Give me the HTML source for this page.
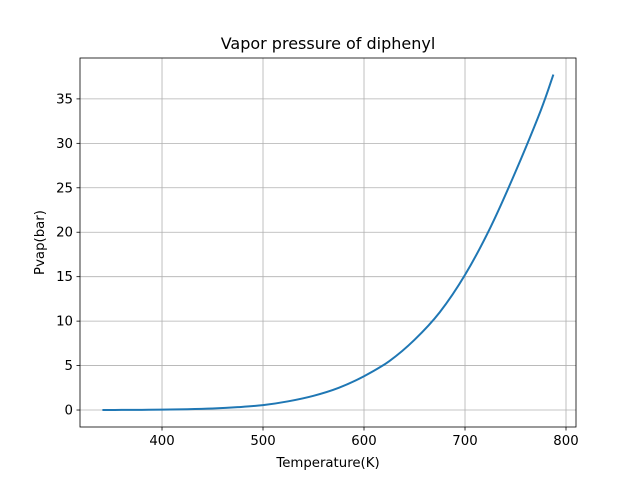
<!DOCTYPE html>
<html><head><meta charset="utf-8"><style>
body{margin:0;background:#fff;font-family:"Liberation Sans","DejaVu Sans",sans-serif}
svg text{font-family:"DejaVu Sans","Liberation Sans",sans-serif;font-size:13.3px;fill:#000}
</style></head><body>
<svg id="chart" width="640" height="480">
<rect width="640" height="480" fill="#fff"/>
<g id="grid"></g>
<g id="axes"></g>
<path id="line" fill="none" stroke="#1f77b4" stroke-width="2"/>
<rect x="80" y="58" width="496" height="369" fill="none" stroke="#000" stroke-width="0.8"/>
<text x="328" y="49" text-anchor="middle" style="font-size:16px">Vapor pressure of diphenyl</text>
<text x="328" y="467" text-anchor="middle">Temperature(K)</text>
<text transform="translate(44,242.5) rotate(-90)" text-anchor="middle">Pvap(bar)</text>
</svg>
<script>
const temps=[341,360,380,400,425,450,475,500,525,550,575,600,625,650,675,700,725,750,775,787.5];
const pvap=[0.0,0.01,0.02,0.05,0.09,0.17,0.32,0.55,0.98,1.6,2.5,3.8,5.5,7.9,11.0,15.2,20.5,26.8,33.7,37.74];
const xTicks=[400,500,600,700,800];
const yTicks=[0,5,10,15,20,25,30,35];
const X0=80,X1=576,Y0=427,Y1=58;
const xmin=318.8,xmax=809.9,ymin=-1.91,ymax=39.6;
const sx=v=>X0+(v-xmin)/(xmax-xmin)*(X1-X0);
const sy=v=>Y0-(v-ymin)/(ymax-ymin)*(Y0-Y1);
const NS="http://www.w3.org/2000/svg";
const grid=document.getElementById('grid'),axes=document.getElementById('axes');
function mk(t,a,p){const e=document.createElementNS(NS,t);for(const k in a)e.setAttribute(k,a[k]);p.appendChild(e);return e;}
xTicks.forEach(v=>{const x=sx(v);
 const g=mk('line',{x1:x,x2:x,y1:Y1,y2:Y0,stroke:'#b0b0b0','stroke-width':0.8},grid);
 
 
 const t=mk('line',{x1:x,x2:x,y1:Y0,y2:Y0+3.5,stroke:'#000','stroke-width':0.8},axes);
 
 
 const l=mk('text',{x:x,y:Y0+18,'text-anchor':'middle'},axes);l.textContent=v;
 
 
});
yTicks.forEach(v=>{const y=sy(v);
 const g=mk('line',{x1:X0,x2:X1,y1:y,y2:y,stroke:'#b0b0b0','stroke-width':0.8},grid);
 
 
 const t=mk('line',{x1:X0-3.5,x2:X0,y1:y,y2:y,stroke:'#000','stroke-width':0.8},axes);
 
 
 const l=mk('text',{x:X0-7,y:y+4.5,'text-anchor':'end'},axes);l.textContent=v;
 
 
});
// smooth Catmull-Rom path through data points
const P=temps.map((t,i)=>[sx(t),sy(pvap[i])]);
let d='M'+P[0][0].toFixed(2)+','+P[0][1].toFixed(2);
for(let i=0;i<P.length-1;i++){
 const p0=P[Math.max(i-1,0)],p1=P[i],p2=P[i+1],p3=P[Math.min(i+2,P.length-1)];
 const c1=[p1[0]+(p2[0]-p0[0])/6,p1[1]+(p2[1]-p0[1])/6];
 const c2=[p2[0]-(p3[0]-p1[0])/6,p2[1]-(p3[1]-p1[1])/6];
 d+='C'+c1.map(v=>v.toFixed(2))+' '+c2.map(v=>v.toFixed(2))+' '+p2.map(v=>v.toFixed(2));
}
document.getElementById('line').setAttribute('d',d);
</script>
</body></html>
